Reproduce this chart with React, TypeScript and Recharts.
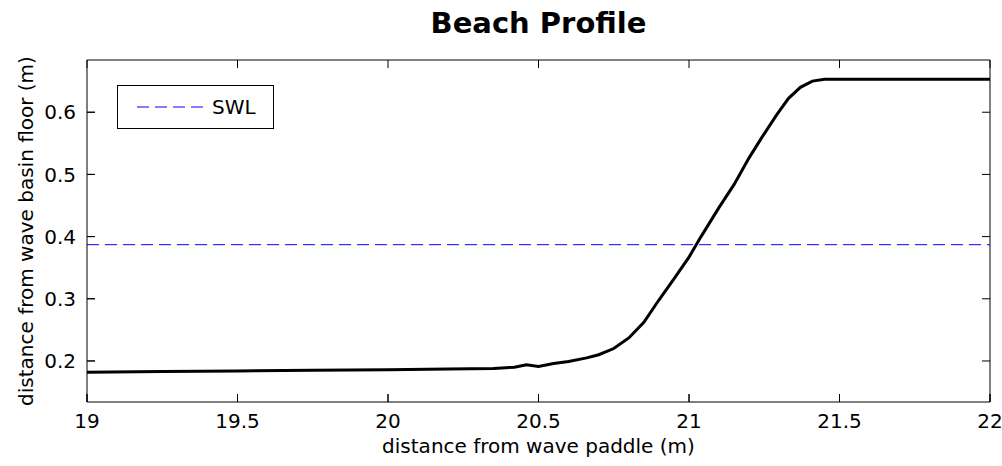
import React from "react";
import { LineChart, Line, XAxis, YAxis, ReferenceLine } from "recharts";

// beach profile
const distX = [
  19.0, 19.25, 19.5, 19.75, 20.0, 20.2, 20.35, 20.42, 20.46, 20.5, 20.55, 20.6,
  20.66, 20.7, 20.75, 20.8, 20.85, 20.9, 20.95, 21.0, 21.04, 21.1, 21.15, 21.2,
  21.24, 21.29, 21.33, 21.37, 21.41, 21.45, 22.0,
];
const floorY = [
  0.182, 0.183, 0.184, 0.185, 0.186, 0.187, 0.188, 0.19, 0.194, 0.191, 0.196,
  0.199, 0.205, 0.21, 0.22, 0.237, 0.262, 0.298, 0.332, 0.367, 0.4, 0.447,
  0.484, 0.527, 0.558, 0.595, 0.622, 0.64, 0.65, 0.653, 0.653,
];
const swlLevel = 0.387;

const xTicks = [19, 19.5, 20, 20.5, 21, 21.5, 22];
const yTicks = [0.2, 0.3, 0.4, 0.5, 0.6];
const xDomain: [number, number] = [19, 22];
const yDomain: [number, number] = [0.134, 0.684];

const data = distX.map((x, i) => ({ x, y: floorY[i] }));

const FONT = "'DejaVu Sans', sans-serif";
const W = 1002;
const H = 466;
const margin = { top: 60, right: 12, bottom: 14, left: 27 };
const X_AXIS_H = 50;
const Y_AXIS_W = 60;
const PLOT_W = W - margin.left - margin.right - Y_AXIS_W;
const PLOT_H = H - margin.top - margin.bottom - X_AXIS_H;
const TICK_PX = 8;
// inward tick length in data units
const tickDx = ((xDomain[1] - xDomain[0]) * TICK_PX) / PLOT_W;
const tickDy = ((yDomain[1] - yDomain[0]) * TICK_PX) / PLOT_H;

function BottomTick(props: any) {
  const { x, y, payload } = props;
  return (
    <text x={x} y={y} dy="0.75em" textAnchor="middle" fontSize={20} fontFamily={FONT} fill="#000">
      {payload.value}
    </text>
  );
}

function LeftTick(props: any) {
  const { x, y, payload } = props;
  return (
    <text x={x} y={y} dy="0.36em" textAnchor="end" fontSize={20} fontFamily={FONT} fill="#000">
      {payload.value}
    </text>
  );
}

function SwlLegend() {
  return (
    <div
      style={{
        position: "absolute",
        left: 117,
        top: 85,
        width: 157,
        height: 44,
        boxSizing: "border-box",
        border: "1px solid #000",
        background: "#fff",
        display: "flex",
        alignItems: "center",
        fontFamily: FONT,
        fontSize: 20,
      }}
    >
      <svg width={95} height={42} style={{ display: "block" }}>
        <line x1={19} x2={86} y1={21} y2={21} stroke="#0000ff" strokeDasharray="12 6" />
      </svg>
      <span style={{ marginLeft: -1 }}>SWL</span>
    </div>
  );
}

const frame = { xAxisId: "b", yAxisId: "l", stroke: "#000", strokeWidth: 1, ifOverflow: "visible" as const };

export default function App() {
  return (
    <div
      style={{
        position: "absolute",
        left: 0,
        top: 0,
        width: W,
        height: H,
        overflow: "hidden",
        background: "#fff",
        fontFamily: FONT,
      }}
    >
      <LineChart width={W} height={H} data={data} margin={margin}>
        <XAxis
          xAxisId="b"
          dataKey="x"
          type="number"
          domain={xDomain}
          ticks={xTicks}
          height={X_AXIS_H}
          tickSize={-TICK_PX}
          tickMargin={19}
          tick={<BottomTick />}
          stroke="#000"
          label={{
            value: "distance from wave paddle (m)",
            position: "insideBottom",
            offset: -1,
            fill: "#000",
            fontSize: 20,
            fontFamily: FONT,
          }}
        />
        <YAxis
          yAxisId="l"
          type="number"
          domain={yDomain}
          ticks={yTicks}
          allowDataOverflow
          width={Y_AXIS_W}
          tickSize={-TICK_PX}
          tickMargin={19}
          tick={<LeftTick />}
          stroke="#000"
          label={{
            value: "distance from wave basin floor (m)",
            angle: -90,
            position: "insideLeft",
            offset: -1,
            fill: "#000",
            fontSize: 20,
            fontFamily: FONT,
            style: { textAnchor: "middle" },
          }}
        />
        {/* box: top and right edges */}
        <ReferenceLine {...frame} y={yDomain[1]} />
        <ReferenceLine {...frame} x={xDomain[1]} />
        {/* inward tick marks on all four sides */}
        {xTicks.map((t) => (
          <ReferenceLine
            key={`xb${t}`}
            {...frame}
            segment={[{ x: t, y: yDomain[0] }, { x: t, y: yDomain[0] + tickDy }]}
          />
        ))}
        {xTicks.map((t) => (
          <ReferenceLine
            key={`xt${t}`}
            {...frame}
            segment={[{ x: t, y: yDomain[1] }, { x: t, y: yDomain[1] - tickDy }]}
          />
        ))}
        {yTicks.map((t) => (
          <ReferenceLine
            key={`yl${t}`}
            {...frame}
            segment={[{ x: xDomain[0], y: t }, { x: xDomain[0] + tickDx, y: t }]}
          />
        ))}
        {yTicks.map((t) => (
          <ReferenceLine
            key={`yr${t}`}
            {...frame}
            segment={[{ x: xDomain[1], y: t }, { x: xDomain[1] - tickDx, y: t }]}
          />
        ))}
        <ReferenceLine
          xAxisId="b"
          yAxisId="l"
          y={swlLevel}
          stroke="#0000ff"
          strokeWidth={1}
          strokeDasharray="12 6"
        />
        <Line
          xAxisId="b"
          yAxisId="l"
          type="linear"
          dataKey="y"
          stroke="#000"
          strokeWidth={3}
          dot={false}
          isAnimationActive={false}
        />
      </LineChart>
      <div
        style={{
          position: "absolute",
          left: 0,
          top: 6,
          width: W,
          paddingLeft: 75,
          boxSizing: "border-box",
          textAlign: "center",
          fontSize: 29,
          fontWeight: "bold",
          lineHeight: "normal",
        }}
      >
        Beach Profile
      </div>
      <SwlLegend />
    </div>
  );
}
